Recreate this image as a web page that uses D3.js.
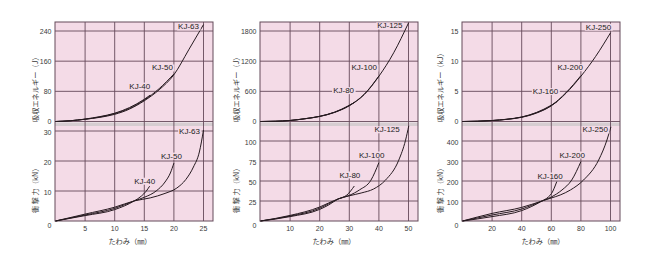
<!DOCTYPE html>
<html><head><meta charset="utf-8">
<script src="https://cdn.jsdelivr.net/npm/d3@7/dist/d3.min.js"></script>
<style>html,body{margin:0;padding:0;background:#fff}svg{display:block}</style>
</head><body>
<svg id="c" width="647" height="275"></svg>
<script>
// ---------------- DATA ----------------
// Panel A : KJ-40 / KJ-50 / KJ-63
const namesA = ["KJ-40", "KJ-50", "KJ-63"];
const xTicksA = [5, 10, 15, 20, 25];
const eTicksA = [0, 80, 160, 240];
const fTicksA = [0, 10, 20, 30];
const eX_A40 = [0, 2.5, 5, 7.5, 10, 12.5, 15, 16];
const eY_A40 = [0, 2, 6.5, 13, 22, 37, 59, 70];
const eX_A50 = [0, 2.5, 5, 7.5, 10, 12.5, 15, 17.5, 20];
const eY_A50 = [0, 2, 6, 12, 21, 35, 57, 87, 126];
const eX_A63 = [0, 2.5, 5, 7.5, 10, 12.5, 15, 17.5, 20, 22.5, 25];
const eY_A63 = [0, 2, 6, 11, 19, 33, 55, 84, 124, 190, 257];
const fX_A40 = [0, 5, 10, 13.3, 14.5, 15.3, 15.9];
const fY_A40 = [0, 1.8, 3.8, 6.7, 8.3, 9.9, 11.6];
const fX_A50 = [0, 5, 10, 13.3, 15, 17, 18.5, 19.4, 20];
const fY_A50 = [0, 2.0, 4.2, 6.7, 7.9, 10, 13, 16, 19.3];
const fX_A63 = [0, 5, 10, 13.3, 16, 18.5, 20.5, 22, 23.3, 24.3, 25];
const fY_A63 = [0, 2.3, 4.6, 6.7, 7.7, 9.2, 11, 13.8, 18, 23, 30.3];

// Panel B : KJ-80 / KJ-100 / KJ-125
const namesB = ["KJ-80", "KJ-100", "KJ-125"];
const xTicksB = [10, 20, 30, 40, 50];
const eTicksB = [0, 600, 1200, 1800];
const fTicksB = [0, 25, 50, 75, 100];
const eX_B80 = [0, 5, 10, 15, 20, 25, 30, 31.6];
const eY_B80 = [0, 5, 21, 56, 104, 186, 322, 375];
const eX_B100 = [0, 5, 10, 15, 20, 25, 30, 35, 40];
const eY_B100 = [0, 5, 20, 55, 102, 183, 318, 540, 905];
const eX_B125 = [0, 5, 10, 15, 20, 25, 30, 35, 40, 45, 50];
const eY_B125 = [0, 5, 20, 54, 100, 180, 313, 533, 900, 1367, 1960];
const fX_B80 = [0, 10, 20, 23, 26.2, 29.2, 31.7];
const fY_B80 = [0, 5.5, 14.5, 20, 27.5, 32.5, 43.75];
const fX_B100 = [0, 10, 20, 23, 26.2, 30, 33.5, 37.3, 40];
const fY_B100 = [0, 6.2, 16, 21.5, 27.5, 32, 39, 51, 73];
const fX_B125 = [0, 10, 20, 23, 26.2, 30, 34, 38.2, 42.2, 46.7, 49, 50.1];
const fY_B125 = [0, 7, 17.5, 22.5, 27.5, 31.5, 35, 40, 51, 76, 101, 119];

// Panel C : KJ-160 / KJ-200 / KJ-250
const namesC = ["KJ-160", "KJ-200", "KJ-250"];
const xTicksC = [20, 40, 60, 80, 100];
const eTicksC = [0, 5, 10, 15];
const fTicksC = [0, 100, 200, 300, 400];
const eX_C160 = [0, 10, 20, 30, 40, 50, 60, 64];
const eY_C160 = [0, 0.05, 0.17, 0.38, 0.75, 1.5, 2.7, 3.3];
const eX_C200 = [0, 10, 20, 30, 40, 50, 60, 70, 80];
const eY_C200 = [0, 0.04, 0.16, 0.37, 0.72, 1.45, 2.65, 4.8, 7.6];
const eX_C250 = [0, 10, 20, 30, 40, 50, 60, 70, 80, 90, 100];
const eY_C250 = [0, 0.04, 0.15, 0.35, 0.7, 1.4, 2.6, 4.7, 7.5, 10.8, 14.7];
const fX_C160 = [0, 20, 40, 53.7, 58, 60.2, 63.7];
const fY_C160 = [0, 22, 52, 100, 120, 138, 197];
const fX_C200 = [0, 20, 40, 53.7, 60, 67.2, 73.8, 80];
const fY_C200 = [0, 30, 60, 100, 120, 155, 205, 297];
const fX_C250 = [0, 20, 40, 53.7, 60, 66, 72.9, 81.8, 92, 97.6, 100.3];
const fY_C250 = [0, 38, 68, 100, 115, 130, 155, 205, 305, 405, 471];

const xTitle = "たわみ（㎜）";
const eTitleJ = "吸収エネルギー（J）";
const eTitleKJ = "吸収エネルギー（kJ）";
const fTitle = "衝 撃 力（kN）";

// ---------------- BUILD ----------------
const zip = (xs, ys) => xs.map((x, i) => [x, ys[i]]);
const panels = [
  { names: namesA, xTicks: xTicksA, eTicks: eTicksA, fTicks: fTicksA, eTitle: eTitleJ,
    energy: [zip(eX_A40, eY_A40), zip(eX_A50, eY_A50), zip(eX_A63, eY_A63)],
    force: [zip(fX_A40, fY_A40), zip(fX_A50, fY_A50), zip(fX_A63, fY_A63)] },
  { names: namesB, xTicks: xTicksB, eTicks: eTicksB, fTicks: fTicksB, eTitle: eTitleJ,
    energy: [zip(eX_B80, eY_B80), zip(eX_B100, eY_B100), zip(eX_B125, eY_B125)],
    force: [zip(fX_B80, fY_B80), zip(fX_B100, fY_B100), zip(fX_B125, fY_B125)] },
  { names: namesC, xTicks: xTicksC, eTicks: eTicksC, fTicks: fTicksC, eTitle: eTitleKJ,
    energy: [zip(eX_C160, eY_C160), zip(eX_C200, eY_C200), zip(eX_C250, eY_C250)],
    force: [zip(fX_C160, fY_C160), zip(fX_C200, fY_C200), zip(fX_C250, fY_C250)] }
];

// layout (pixels)
const layout = [
  { left: 55, botSpan: 90, titleX: 34.5, xTitleX: 130,
    eLab: [[0, -9], [-1, -6], [-4.5, 2.4]], fLab: [[5.5, -5], [8, -7], [-3.5, 1]] },
  { left: 260, botSpan: 80, titleX: 236, xTitleX: 334,
    eLab: [[0, -12], [-2, -8], [-6, 3]], fLab: [[6, -11], [5.5, -7.6], [-9, 4]] },
  { left: 462, botSpan: 80, titleX: 440, xTitleX: 543,
    eLab: [[1, -10], [2, -8], [0.7, -5.6]], fLab: [[6, -5.6], [4, -6.6], [-3, 3]] }
];

const PW = 158, TOP = 22, TOPEND = 122.5, BAND = 126, BOT = 221;
const PINK = "#f4dbe7", GRID = "#654a5a", CURVE = "#261a20", TXT = "#3a3a3a";
const NUM = "'Liberation Sans', Arial, sans-serif";
const JP = "'Noto Sans CJK JP', sans-serif";

const svg = d3.select("#c");

panels.forEach((p, i) => {
  const L = layout[i];
  const g = svg.append("g");
  const left = L.left, right = L.left + PW;
  const xMaxT = p.xTicks[p.xTicks.length - 1];
  const x = d3.scaleLinear().domain([0, xMaxT]).range([left + 0.5, left + 148.5]);
  const eMaxT = p.eTicks[p.eTicks.length - 1];
  const yE = d3.scaleLinear().domain([0, eMaxT]).range([121.5, 31]);
  const fMaxT = p.fTicks[p.fTicks.length - 1];
  const yF = d3.scaleLinear().domain([0, fMaxT]).range([BOT, BOT - L.botSpan]);

  // backgrounds
  g.append("rect").attr("x", left).attr("y", TOP).attr("width", PW).attr("height", TOPEND - TOP).attr("fill", PINK);
  g.append("rect").attr("x", left).attr("y", BAND).attr("width", PW).attr("height", BOT - BAND).attr("fill", PINK);
  g.append("rect").attr("x", left).attr("y", TOPEND).attr("width", PW).attr("height", BAND - TOPEND).attr("fill", "#d6cdd1");

  // gridlines
  g.selectAll(".vg").data(p.xTicks).join("line")
    .attr("x1", d => x(d)).attr("x2", d => x(d)).attr("y1", TOP).attr("y2", BOT)
    .attr("stroke", GRID).attr("stroke-width", 0.9);
  g.selectAll(".hgE").data(p.eTicks).join("line")
    .attr("x1", left).attr("x2", right).attr("y1", d => yE(d)).attr("y2", d => yE(d))
    .attr("stroke", GRID).attr("stroke-width", 0.9);
  g.selectAll(".hgF").data(p.fTicks.filter(d => d > 0)).join("line")
    .attr("x1", left).attr("x2", right).attr("y1", d => yF(d)).attr("y2", d => yF(d))
    .attr("stroke", GRID).attr("stroke-width", 0.9);

  // border
  g.append("rect").attr("x", left).attr("y", TOP).attr("width", PW).attr("height", BOT - TOP)
    .attr("fill", "none").attr("stroke", GRID).attr("stroke-width", 1);

  // curves
  const lineE = d3.line().x(d => x(d[0])).y(d => yE(d[1])).curve(d3.curveMonotoneX);
  const lineF = d3.line().x(d => x(d[0])).y(d => yF(d[1])).curve(d3.curveMonotoneX);
  p.energy.forEach(s => g.append("path").attr("d", lineE(s)).attr("fill", "none").attr("stroke", CURVE).attr("stroke-width", 1));
  p.force.forEach(s => g.append("path").attr("d", lineF(s)).attr("fill", "none").attr("stroke", CURVE).attr("stroke-width", 1));

  // series labels
  function label(px, py, txt) {
    const t = g.append("text").attr("x", px).attr("y", py).attr("text-anchor", "end")
      .attr("dominant-baseline", "central").attr("font-family", NUM).attr("font-size", 8)
      .attr("fill", "#222").text(txt);
    const bb = t.node().getBBox();
    g.insert("rect", () => t.node()).attr("x", bb.x - 1).attr("y", bb.y + 1).attr("width", bb.width + 2)
      .attr("height", bb.height - 2).attr("fill", PINK);
  }
  p.energy.forEach((s, k) => {
    const e = s[s.length - 1];
    label(x(e[0]) + L.eLab[k][0], yE(e[1]) + L.eLab[k][1], p.names[k]);
  });
  p.force.forEach((s, k) => {
    const e = s[s.length - 1];
    label(x(e[0]) + L.fLab[k][0], yF(e[1]) + L.fLab[k][1], p.names[k]);
  });

  // tick labels
  g.selectAll(".ty").data(p.eTicks).join("text")
    .attr("x", left - 3.5).attr("y", d => yE(d)).attr("text-anchor", "end").attr("dominant-baseline", "central")
    .attr("font-family", NUM).attr("font-size", 7).attr("fill", TXT).text(d => d);
  g.selectAll(".tf").data(p.fTicks).join("text")
    .attr("x", left - 3.5).attr("y", d => d === 0 ? yF(d) + 4 : yF(d) + 1)
    .attr("text-anchor", "end").attr("dominant-baseline", "central")
    .attr("font-family", NUM).attr("font-size", 7).attr("fill", TXT).text(d => d);
  g.selectAll(".tx").data(p.xTicks).join("text")
    .attr("x", d => x(d)).attr("y", 228.5).attr("text-anchor", "middle").attr("dominant-baseline", "central")
    .attr("font-family", NUM).attr("font-size", 7).attr("fill", TXT).text(d => d);

  // titles
  g.append("text").attr("transform", `translate(${L.titleX},122) rotate(-90)`)
    .attr("text-anchor", "start").attr("dominant-baseline", "central")
    .attr("font-family", JP).attr("font-size", 7.2).attr("fill", TXT).text(p.eTitle);
  g.append("text").attr("transform", `translate(${L.titleX},213) rotate(-90)`)
    .attr("text-anchor", "start").attr("dominant-baseline", "central")
    .attr("font-family", JP).attr("font-size", 7.2).attr("fill", TXT).text(fTitle);
  g.append("text").attr("x", L.xTitleX).attr("y", 241).attr("text-anchor", "middle")
    .attr("dominant-baseline", "central").attr("font-family", JP).attr("font-size", 7.2)
    .attr("fill", TXT).text(xTitle);
});
</script>
</body></html>
